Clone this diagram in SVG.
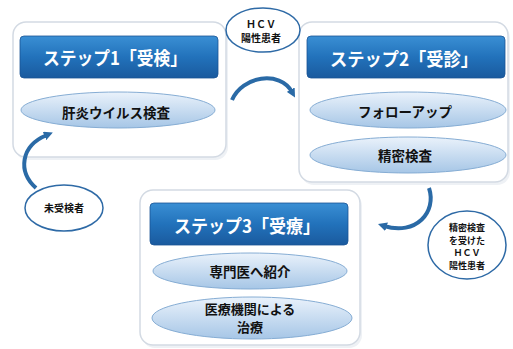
<svg xmlns="http://www.w3.org/2000/svg" width="513" height="349" viewBox="0 0 513 349">
<defs>
<linearGradient id="hdr" x1="0" y1="0" x2="0" y2="1">
<stop offset="0" stop-color="#3a8fd4"/>
<stop offset="0.5" stop-color="#2272bb"/>
<stop offset="1" stop-color="#1a5a9e"/>
</linearGradient>
<linearGradient id="ell" x1="0" y1="0" x2="0" y2="1">
<stop offset="0" stop-color="#eaf2fb"/>
<stop offset="1" stop-color="#a6c6e6"/>
</linearGradient>
<marker id="ah" viewBox="0 0 10 10" markerWidth="9" markerHeight="9" refX="3" refY="5" orient="auto" markerUnits="userSpaceOnUse">
<path d="M0,0 L10,5 L0,10 z" fill="#2a6aa6"/>
</marker>
</defs>
<style>
.box{fill:#ffffff;stroke:#d3dae3;stroke-width:1.5}
.shadow{fill:#eef1f5}
.hdr{fill:url(#hdr);stroke:#1a5496;stroke-width:0.8}
.ht{font-family:"Noto Sans CJK JP",sans-serif;font-size:18px;font-weight:700;fill:#ffffff;text-anchor:middle}
.el{fill:url(#ell);stroke:#86add4;stroke-width:1}
.et{font-family:"Noto Sans CJK JP",sans-serif;font-size:13.5px;font-weight:700;fill:#111111;text-anchor:middle}
.bub{fill:#ffffff;stroke:#2e6aa6;stroke-width:1.5}
.bt{font-family:"Noto Sans CJK JP",sans-serif;font-size:10px;font-weight:700;fill:#111111;text-anchor:middle}
.arr{fill:none;stroke:#2a6aa6;stroke-width:4;marker-end:url(#ah)}
</style>
<rect width="513" height="349" fill="#ffffff"/>

<g id="step1">
<rect class="shadow" x="15" y="25" width="213" height="135" rx="13"/>
<rect class="box" x="13" y="22" width="213" height="135" rx="13"/>
<rect class="hdr" x="20" y="36" width="198" height="42" rx="4"/>
<text class="ht" x="115" y="65" textLength="144" lengthAdjust="spacingAndGlyphs">ステップ1「受検」</text>
<ellipse class="el" cx="118" cy="110" rx="97" ry="18"/>
<text class="et" x="116" y="118">肝炎ウイルス検査</text>
</g>

<g id="step2">
<rect class="shadow" x="301" y="25" width="209" height="160" rx="13"/>
<rect class="box" x="299" y="22" width="209" height="160" rx="13"/>
<rect class="hdr" x="307" y="36" width="198" height="42" rx="4"/>
<text class="ht" x="404" y="66" textLength="148" lengthAdjust="spacingAndGlyphs">ステップ2「受診」</text>
<ellipse class="el" cx="408" cy="110" rx="98" ry="18"/>
<text class="et" x="405" y="117">フォローアップ</text>
<ellipse class="el" cx="408" cy="155" rx="98" ry="18"/>
<text class="et" x="405" y="161">精密検査</text>
</g>

<g id="step3">
<rect class="shadow" x="142" y="193" width="220" height="155" rx="13"/>
<rect class="box" x="140" y="190" width="220" height="155" rx="13"/>
<rect class="hdr" x="150" y="203" width="198" height="42" rx="4"/>
<text class="ht" x="247" y="233" textLength="146" lengthAdjust="spacingAndGlyphs">ステップ3「受療」</text>
<ellipse class="el" cx="250" cy="271" rx="97" ry="18"/>
<text class="et" x="250" y="277">専門医へ紹介</text>
<ellipse class="el" cx="252" cy="318" rx="100" ry="21"/>
<text class="et" x="250" y="314" style="font-size:13px">医療機関による</text>
<text class="et" x="250" y="332" style="font-size:13px">治療</text>
</g>

<g id="bubble-hcv">
<ellipse class="bub" cx="263" cy="30" rx="37" ry="22"/>
<text class="bt" x="261" y="28">ＨＣＶ</text>
<text class="bt" x="261" y="42">陽性患者</text>
</g>

<g id="bubble-unexamined">
<ellipse class="bub" cx="64" cy="208" rx="39" ry="23"/>
<text class="bt" x="64" y="212">未受検者</text>
</g>

<g id="bubble-examined">
<ellipse class="bub" cx="467" cy="245" rx="39" ry="34"/>
<text class="bt" x="467" y="231" style="font-size:9px">精密検査</text>
<text class="bt" x="467" y="243.5" style="font-size:9px">を受けた</text>
<text class="bt" x="467" y="256" style="font-size:9px">ＨＣＶ</text>
<text class="bt" x="467" y="268.5" style="font-size:9px">陽性患者</text>
</g>

<g id="connectors">
<path class="arr" d="M232,100 C242,76 280,70 292,92"/>
<path class="arr" d="M429,188 C437,212 416,236 384,226"/>
<path class="arr" d="M36,188 C18,172 20,146 47,135"/>
</g>
</svg>
